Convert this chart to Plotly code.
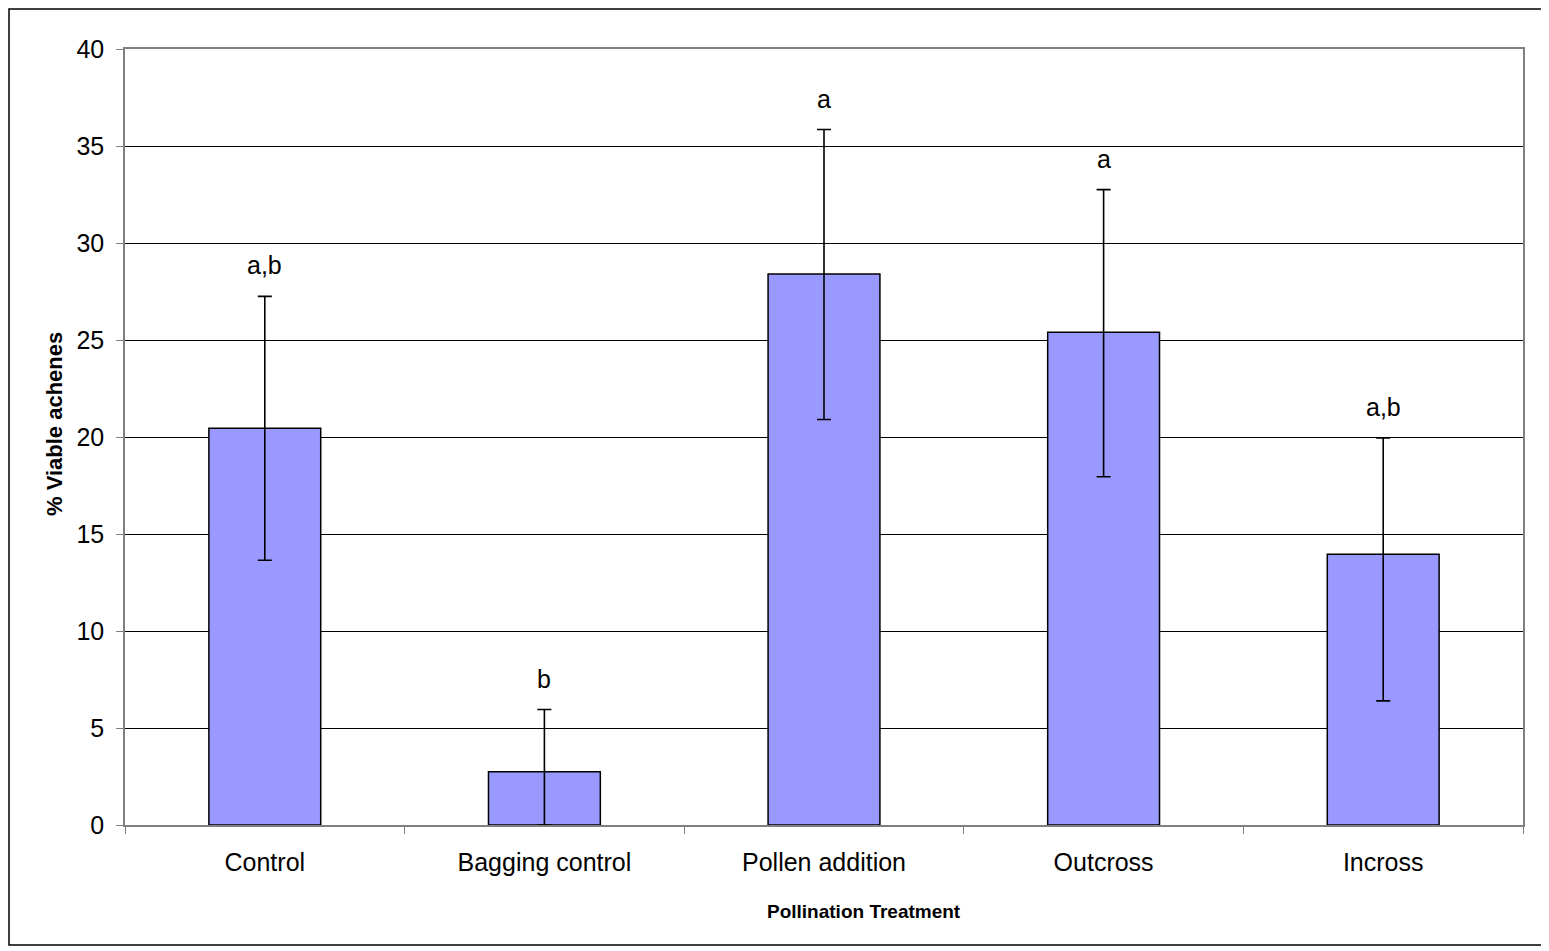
import plotly.graph_objects as go

categories = ["Control", "Bagging control", "Pollen addition", "Outcross", "Incross"]
means = [20.45, 2.75, 28.4, 25.4, 13.95]
err_plus = [6.8, 3.2, 7.45, 7.35, 6.0]
err_minus = [6.8, 2.75, 7.5, 7.45, 7.55]
letters = ["a,b", "b", "a", "a", "a,b"]
y_ticks = [0, 5, 10, 15, 20, 25, 30, 35, 40]

OFF = 8  # page body margin
W, H = 1549 - OFF, 951 - OFF
ml, mt = 125 - OFF, 49 - OFF
mr = W - (1523 - OFF)
mb = H - (825 - OFF)
pw, ph = W - ml - mr, H - mt - mb


def px(xs):
    return (xs - OFF - ml) / pw


def py(ys):
    return (H - (ys - OFF) - mb) / ph


FONT = "Liberation Sans, Arial, sans-serif"

fig = go.Figure()
fig.add_trace(go.Bar(
    x=categories, y=means,
    marker=dict(color="#9999FF", line=dict(color="#000000", width=1.5)),
    error_y=dict(type="data", symmetric=False, array=err_plus, arrayminus=err_minus,
                 color="#000000", thickness=1.6, width=7),
    width=0.4,
    showlegend=False,
))

for c, m, e, t in zip(categories, means, err_plus, letters):
    fig.add_annotation(x=c, y=m + e, xref="x", yref="y", text=t, showarrow=False,
                       yanchor="middle", yshift=31,
                       font=dict(family=FONT, size=25, color="#000000"))

# axis titles
fig.add_annotation(x=px(963), y=py(911), xref="paper", yref="paper",
                   text="<b>Pollination Treatment</b>", showarrow=False,
                   xanchor="right", yanchor="middle",
                   font=dict(family=FONT, size=19, color="#000000"))
fig.add_annotation(x=px(55), y=py(424), xref="paper", yref="paper",
                   text="<b>% Viable achenes</b>", showarrow=False, textangle=-90,
                   xanchor="center", yanchor="middle",
                   font=dict(family=FONT, size=22, color="#000000"))

# outer border
fig.add_shape(type="rect", xref="paper", yref="paper",
              x0=px(9), x1=px(1542), y0=py(945), y1=py(9),
              line=dict(color="#000000", width=1.5), fillcolor="rgba(0,0,0,0)", layer="below")

fig.update_layout(
    width=W, height=H,
    margin=dict(l=ml, r=mr, t=mt, b=mb, autoexpand=False),
    paper_bgcolor="#FFFFFF", plot_bgcolor="#FFFFFF",
    bargap=0.6,
    font=dict(family=FONT, color="#000000"),
    xaxis=dict(
        showline=True, linecolor="#808080", linewidth=1.5, mirror=True,
        ticks="outside", ticklen=7, tickcolor="#808080", tickwidth=1,
        tickson="boundaries", showgrid=False,
        tickfont=dict(family=FONT, size=25, color="#000000"),
        ticklabelstandoff=14,
    ),
    yaxis=dict(
        range=[0, 40], tickvals=y_ticks,
        showline=True, linecolor="#808080", linewidth=1.5, mirror=True,
        ticks="outside", ticklen=7, tickcolor="#808080", tickwidth=1,
        showgrid=True, gridcolor="#000000", gridwidth=1,
        zeroline=False,
        tickfont=dict(family=FONT, size=25, color="#000000"),
        ticklabelstandoff=7,
    ),
)

fig.write_html("out.html")
